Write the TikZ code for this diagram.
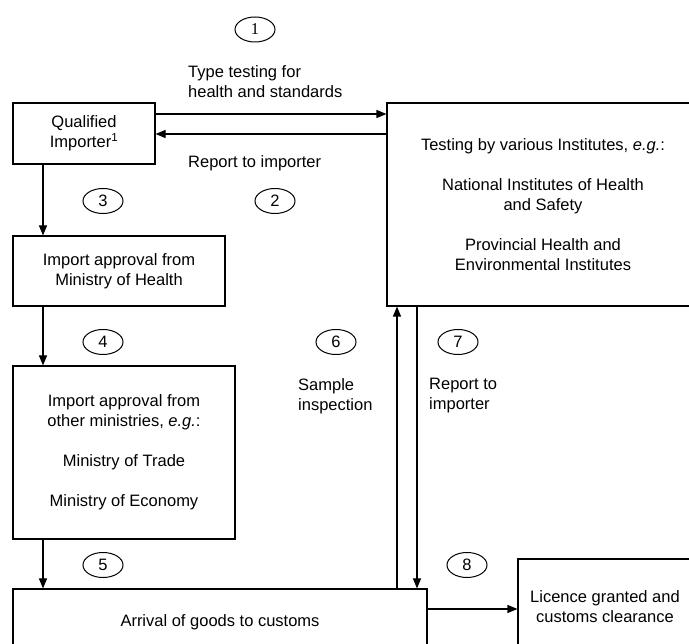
\documentclass[tikz,border=0pt]{standalone}
\usepackage{fontspec}
\setmainfont{Liberation Sans}
\newfontfamily\numserif{Liberation Serif}
\usetikzlibrary{arrows.meta,shapes.geometric}
\begin{document}
\begin{tikzpicture}[x=1pt,y=-1pt,
  font=\fontsize{16.5}{20}\selectfont,
  box/.style={draw,line width=1.1pt,inner sep=0pt,align=center},
  num/.style={draw,ellipse,line width=1pt,minimum width=40pt,minimum height=25pt,inner sep=0pt},
  flow/.style={line width=1.1pt,-{Triangle[length=10pt,width=8pt]}},
  lbl/.style={inner sep=0pt,align=left,anchor=west}]
\useasboundingbox (0,0) rectangle (689,644);
\clip (0,0) rectangle (689,644);

% process boxes
\node[box,minimum width=142pt,minimum height=61pt] (imp) at (84,133.5)
  {Qualified\\Importer\textsuperscript{1}};
\node[box,minimum width=312pt,minimum height=203pt] (test) at (543,204.5)
  {Testing by various Institutes, \textit{e.g.}:\\[20pt]National Institutes of Health\\and Safety\\[20pt]Provincial Health and\\Environmental Institutes};
\node[box,minimum width=212pt,minimum height=70pt] (moh) at (119,271)
  {Import approval from\\Ministry of Health};
\node[box,minimum width=222pt,minimum height=173pt] (omin) at (124,452.5)
  {Import approval from\\other ministries, \textit{e.g.}:\\[20pt]Ministry of Trade\\[20pt]Ministry of Economy};
\node[box,minimum width=414pt,minimum height=66pt] (cust) at (220,622)
  {Arrival of goods to customs};
\node[box,minimum width=174pt,minimum height=96pt] (lic) at (605,607)
  {Licence granted and\\customs clearance};

% step numbers
\node[num] (n1) at (255,29.5) {\numserif 1};
\node[num] (n2) at (275,201) {2};
\node[num] (n3) at (103,201) {3};
\node[num] (n4) at (103,342) {4};
\node[num] (n5) at (103,565) {5};
\node[num] (n6) at (336,342) {6};
\node[num] (n7) at (458,342) {7};
\node[num] (n8) at (467,565) {8};

% connector labels
\node[lbl] (l1) at (188,82) {Type testing for\\health and standards};
\node[lbl] (l2) at (188,163) {Report to importer};
\node[lbl] (l6) at (298,396) {Sample\\inspection};
\node[lbl] (l7) at (429,396) {Report to\\importer};

% connectors
\draw[flow] (imp.east |- 0,114) -- (test.west |- 0,114);
\draw[flow] (test.west |- 0,134) -- (imp.east |- 0,134);
\draw[flow] (imp.south -| 43,0) -- (moh.north -| 43,0);
\draw[flow] (moh.south -| 43,0) -- (omin.north -| 43,0);
\draw[flow] (omin.south -| 43,0) -- (cust.north -| 43,0);
\draw[flow] (cust.north -| 397,0) -- (test.south -| 397,0);
\draw[flow] (test.south -| 417,0) -- (cust.north -| 417,0);
\draw[flow] (cust.east |- 0,609) -- (lic.west |- 0,609);
\end{tikzpicture}
\end{document}
